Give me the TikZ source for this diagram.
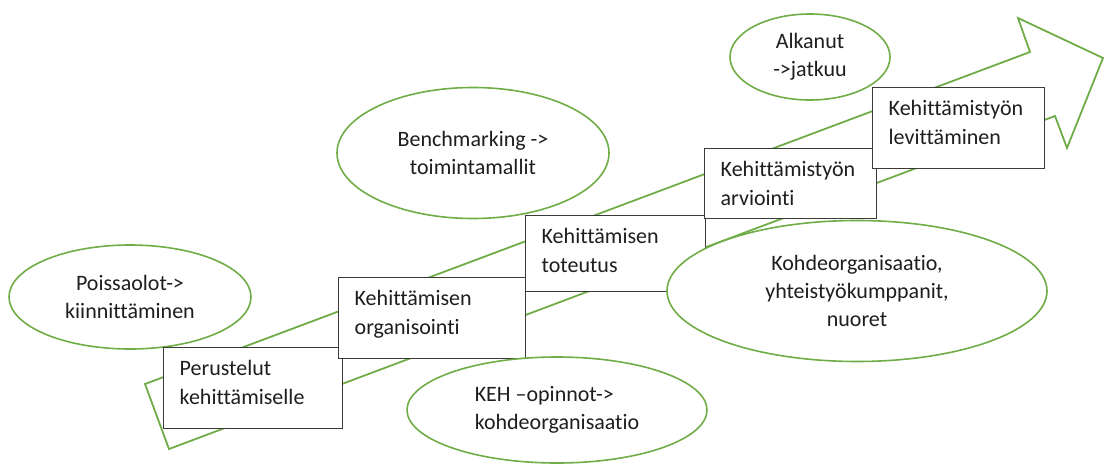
\documentclass[tikz,border=0pt]{standalone}
\usepackage{fontspec}
\setmainfont{Carlito}[Ligatures={NoCommon}, RawFeature={-liga;-clig;-dlig}]
\usetikzlibrary{shapes.geometric}
\definecolor{agreen}{HTML}{70AD47}
\definecolor{boxline}{HTML}{3A3A3A}
\definecolor{txt}{HTML}{1E1E1E}
\newcommand\boxtext[3]{\parbox[c][#2][t]{#1}{\rule{0pt}{28pt}#3}}
\begin{document}
\begin{tikzpicture}[x=1pt,y=-1pt,
  stepbox/.style={draw=boxline, line width=1.4pt, fill=white, anchor=north west,
    inner xsep=16pt, inner ysep=0pt, align=left, text=txt,
    font=\fontsize{22}{29}\selectfont},
  bubble/.style={ellipse, draw=agreen, line width=1.6pt, fill=white, inner sep=0pt,
    align=center, text=txt, font=\fontsize{22}{28}\selectfont},
  bigarrow/.style={draw=agreen, line width=1.8pt, line join=miter}]
\useasboundingbox (0,0) rectangle (1106,466);

% big arrow
\coordinate (t1) at (145,384);
\coordinate (n1) at (1030,52);
\coordinate (h1) at (1018,18);
\coordinate (tip) at (1103,58);
\coordinate (h2) at (1067,148);
\coordinate (n2) at (1055,116);
\coordinate (t2) at (169,449);
\draw[bigarrow] (t1) -- (n1) -- (h1) -- (tip) -- (h2) -- (n2) -- (t2) -- cycle;

% ellipses behind the boxes
\node[bubble, minimum width=160pt, minimum height=86pt] (alk) at (810,57) {Alkanut\\->jatkuu};
\node[bubble, minimum width=242pt, minimum height=104pt] (poi) at (130,297) {Poissaolot->\\kiinnittäminen};
\node[bubble, minimum width=272pt, minimum height=131pt] (ben) at (473,153) {Benchmarking ->\\toimintamallit};

% steps
\node[stepbox] (s1) at (163,347) {\boxtext{147pt}{81pt}{Perustelut\\kehittämiselle}};
\node[stepbox] (s2) at (338,277) {\boxtext{155pt}{81pt}{Kehittämisen\\organisointi}};
\node[stepbox] (s3) at (525,215) {\boxtext{148pt}{76pt}{Kehittämisen\\toteutus}};
\node[stepbox] (s4) at (704,148) {\boxtext{140pt}{70pt}{Kehittämistyön\\arviointi}};

% ellipses in front
\node[bubble, minimum width=300pt, minimum height=106pt, align=left] (keh) at (557,410) {KEH –opinnot->\\kohdeorganisaatio};
\node[bubble, minimum width=380pt, minimum height=141pt] (koh) at (857,291) {Kohdeorganisaatio,\\yhteistyökumppanit,\\nuoret};

\node[stepbox] (s5) at (872,87) {\boxtext{140pt}{81pt}{Kehittämistyön\\levittäminen}};
\end{tikzpicture}
\end{document}
